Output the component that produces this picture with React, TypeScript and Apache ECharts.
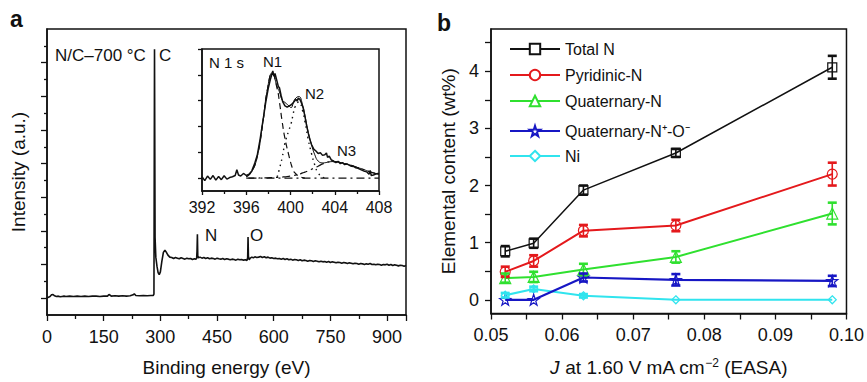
import React, { useEffect, useRef } from "react";
import * as echarts from "echarts";

const FONT = "'Liberation Sans', Arial, Helvetica, sans-serif";

// ---------- Panel a: XPS survey ----------
const surveyEnergy = [
  0, 4, 8, 12, 16, 20, 25, 30, 35, 40, 45, 50, 60, 70, 80, 90, 100, 110, 120, 130, 140, 150, 160, 164, 167, 170,
  180, 190, 200, 210, 220, 228, 231, 235, 245, 255, 265, 275, 281, 283, 284.5, 286, 288, 291, 294, 297, 300, 304,
  308, 312, 316, 320, 325, 330, 335, 340, 345, 350, 355, 360, 365, 370, 375, 380, 385, 390, 394, 396, 397, 398,
  399, 401, 405, 410, 415, 420, 425, 430, 435, 440, 445, 450, 455, 460, 465, 470, 475, 480, 485, 490, 495, 500,
  505, 510, 515, 520, 525, 529, 531, 532, 533, 535, 538, 542, 546, 550, 555, 560, 565, 570, 575, 580, 585, 590,
  595, 600, 605, 610, 615, 620, 625, 630, 635, 640, 645, 650, 655, 660, 665, 670, 675, 680, 685, 690, 695, 700,
  705, 710, 715, 720, 725, 730, 735, 740, 745, 750, 755, 760, 765, 770, 775, 780, 785, 790, 795, 800, 805, 810,
  815, 820, 825, 830, 835, 840, 845, 850, 855, 860, 865, 870, 875, 880, 885, 890, 895, 900, 905, 910, 915, 920,
  925, 930, 935, 940, 945, 950,
];
const surveyIntensity = [
  0.5, 0.53, 0.55, 0.6, 0.61, 0.57, 0.55, 0.56, 0.54, 0.55, 0.56, 0.55, 0.56, 0.55, 0.56, 0.55, 0.56, 0.55, 0.56,
  0.56, 0.55, 0.56, 0.56, 0.61, 0.59, 0.56, 0.57, 0.56, 0.57, 0.56, 0.57, 0.6, 0.63, 0.58, 0.57, 0.58, 0.57, 0.58,
  0.58, 0.62, 7.9, 2.3, 1.72, 1.45, 1.26, 1.2, 1.28, 1.6, 1.86, 1.93, 1.86, 1.78, 1.72, 1.71, 1.68, 1.71, 1.69,
  1.67, 1.7, 1.68, 1.66, 1.69, 1.67, 1.68, 1.65, 1.67, 1.66, 1.68, 1.9, 2.4, 1.75, 1.7, 1.72, 1.69, 1.71, 1.68,
  1.7, 1.67, 1.69, 1.68, 1.66, 1.69, 1.67, 1.66, 1.68, 1.65, 1.67, 1.66, 1.64, 1.66, 1.65, 1.63, 1.66, 1.64,
  1.65, 1.63, 1.64, 1.62, 1.7, 2.32, 1.75, 1.64, 1.69, 1.72, 1.7, 1.73, 1.71, 1.72, 1.74, 1.71, 1.73, 1.7, 1.72,
  1.69, 1.7, 1.68, 1.69, 1.67, 1.68, 1.66, 1.68, 1.65, 1.67, 1.64, 1.66, 1.63, 1.65, 1.64, 1.62, 1.64, 1.61,
  1.63, 1.62, 1.6, 1.62, 1.61, 1.59, 1.61, 1.6, 1.58, 1.6, 1.58, 1.59, 1.57, 1.59, 1.56, 1.58, 1.57, 1.55, 1.57,
  1.56, 1.54, 1.56, 1.55, 1.53, 1.55, 1.54, 1.52, 1.54, 1.53, 1.51, 1.53, 1.52, 1.5, 1.52, 1.51, 1.53, 1.5,
  1.51, 1.49, 1.51, 1.5, 1.48, 1.5, 1.49, 1.51, 1.48, 1.5, 1.47, 1.49, 1.48, 1.46, 1.48, 1.47, 1.45, 1.47,
];

// ---------- Inset: N 1s ----------
const n1sEnergy = [
  392.0, 392.25, 392.5, 392.75, 393.0, 393.25, 393.5, 393.75, 394.0, 394.25, 394.5, 394.75, 395.0, 395.15, 395.3,
  395.5, 395.75, 396.0, 396.25, 396.5, 396.75, 397.0, 397.25, 397.5, 397.75, 398.0, 398.2, 398.4, 398.5, 398.6,
  398.75, 398.9, 399.0, 399.15, 399.3, 399.5, 399.7, 399.9, 400.1, 400.3, 400.5, 400.6, 400.7, 400.85, 401.0,
  401.15, 401.3, 401.45, 401.6, 401.75, 401.9, 402.1, 402.3, 402.5, 402.7, 402.9, 403.1, 403.25, 403.35, 403.5,
  403.7, 403.9, 404.1, 404.3, 404.5, 404.7, 404.9, 405.1, 405.3, 405.5, 405.7, 405.9, 406.1, 406.3, 406.5, 406.7,
  406.9, 407.1, 407.2, 407.3, 407.5, 407.7, 407.9, 408.0,
];
const n1sIntensity = [
  0.05, -0.1, 0.08, -0.05, 0.1, -0.08, 0.06, -0.06, 0.09, -0.04, 0.02, 0.05, 0.1, 0.32, 0.12, 0.08, 0.18, 0.1,
  0.15, 0.28, 0.55, 0.9, 1.5, 2.2, 2.9, 3.5, 3.85, 4.15, 3.95, 4.05, 3.8, 3.55, 3.5, 3.2, 2.95, 2.8, 2.75, 2.8,
  2.85, 2.95, 3.05, 2.98, 3.1, 3.05, 2.9, 2.7, 2.4, 2.05, 1.75, 1.5, 1.3, 1.12, 1.05, 0.95, 0.98, 0.88, 0.9,
  0.97, 0.8, 0.85, 0.7, 0.66, 0.6, 0.65, 0.56, 0.6, 0.52, 0.55, 0.5, 0.46, 0.45, 0.4, 0.38, 0.34, 0.3, 0.26,
  0.24, 0.15, 0.3, 0.1, 0.12, 0.16, 0.18, 0.17,
];
const fitEnergy = [
  396, 396.5, 397, 397.5, 397.9, 398.35, 398.8, 399.0, 399.25, 399.5, 399.85, 400.05, 400.25, 400.4, 400.75,
  401.1, 401.3, 401.6, 401.9, 402.2, 402.5, 402.9, 403.2, 403.5, 404, 404.5, 405, 405.5, 406, 406.5, 407, 407.5,
  408,
];
const fitEnvelope = [
  0.05, 0.25, 0.85, 2.16, 3.41, 4.08, 3.53, 3.34, 3.02, 2.93, 2.8, 2.73, 2.9, 3.06, 3.16, 2.82, 2.43, 1.78, 1.29,
  0.9, 0.66, 0.59, 0.6, 0.63, 0.64, 0.6, 0.55, 0.49, 0.42, 0.35, 0.27, 0.2, 0.14,
];
const fitN1 = [
  0.05, 0.25, 0.85, 2.15, 3.4, 4.06, 3.45, 2.95, 2.18, 1.53, 0.88, 0.55, 0.3, 0.2, 0.07, 0.02, 0, null, null,
  null, null, null, null, null, null, null, null, null, null, null, null, null, null,
];
const fitN2 = [
  null, null, null, null, null, null, 0.05, 0.36, 0.8, 1.35, 1.85, 2.1, 2.5, 2.75, 2.95, 2.6, 2.2, 1.5, 0.95, 0.5,
  0.2, 0.04, 0, null, null, null, null, null, null, null, null, null, null,
];
const fitN3 = [
  0, 0, 0, 0.01, 0.01, 0.02, 0.03, 0.03, 0.04, 0.05, 0.07, 0.08, 0.1, 0.11, 0.14, 0.2, 0.23, 0.28, 0.34, 0.4,
  0.46, 0.55, 0.6, 0.63, 0.64, 0.6, 0.55, 0.49, 0.42, 0.35, 0.27, 0.2, 0.14,
];
const baselineEnergy = [396.2, 408];
const baselineIntensity = [0, 0];

// ---------- Panel b ----------
const currentDensity = [0.052, 0.056, 0.063, 0.076, 0.098];
const totalN = [0.85, 0.99, 1.92, 2.57, 4.07];
const totalNErr = [0.09, 0.08, 0.08, 0.07, 0.2];
const pyridinicN = [0.49, 0.68, 1.21, 1.3, 2.2];
const pyridinicNErr = [0.09, 0.1, 0.1, 0.1, 0.2];
const quaternaryN = [0.38, 0.4, 0.53, 0.75, 1.51];
const quaternaryNErr = [0.08, 0.09, 0.1, 0.1, 0.19];
const quaternaryNO = [0, 0, 0.39, 0.35, 0.33];
const quaternaryNOErr = [0, 0, 0.07, 0.1, 0.09];
const nickel = [0.08, 0.19, 0.07, 0, 0];
const nickelErr = [0.04, 0.04, 0.03, 0, 0];

const surveyXTicks = { min: 0, max: 950, interval: 150 };
const insetXTicks = { min: 392, max: 408, interval: 4 };
const panelBXTicks = { min: 0.05, max: 0.1, interval: 0.01 };
const panelBYLabels = [0, 1, 2, 3, 4];
const panelBYTicks = [0, 0.5, 1, 1.5, 2, 2.5, 3, 3.5, 4, 4.5];
const surveyYMajor = [0.5, 1.5, 2.5, 3.5, 4.5, 5.5, 6.5, 7.5];
const surveyYMinor = [1, 2, 3, 4, 5, 6, 7, 8];
const insetYTicks = [0, 1, 2, 3, 4, 5];

const STAR =
  "path://M50,0 L61.8,35.1 L98.9,35.4 L69.1,57.5 L80.2,92.7 L50,71.5 L19.8,92.7 L30.9,57.5 L1.1,35.4 L38.2,35.1 Z";

const zip = (xs: number[], ys: (number | null)[]) => {
  const out: number[][] = [];
  xs.forEach((x, i) => {
    const y = ys[i];
    if (y !== null && y !== undefined) out.push([x, y]);
  });
  return out;
};

const errData = (vals: number[], errs: number[]) =>
  currentDensity.map((x, i) => [x, vals[i] - errs[i], vals[i] + errs[i]]);

const errorRender = (color: string) => (params: any, api: any) => {
  const x = api.value(0);
  const lo = api.value(1);
  const hi = api.value(2);
  if (hi - lo < 1e-9) return null;
  const a = api.coord([x, hi]);
  const b = api.coord([x, lo]);
  const w = 4.5;
  return {
    type: "group",
    children: [
      { type: "line", shape: { x1: a[0], y1: a[1], x2: b[0], y2: b[1] }, style: { stroke: color, lineWidth: 1.6 } },
      { type: "line", shape: { x1: a[0] - w, y1: a[1], x2: a[0] + w, y2: a[1] }, style: { stroke: color, lineWidth: 2.6 } },
      { type: "line", shape: { x1: b[0] - w, y1: b[1], x2: b[0] + w, y2: b[1] }, style: { stroke: color, lineWidth: 2.6 } },
    ],
  };
};

const BLACK = "#111111";
const RED = "#e4191c";
const GREEN = "#2fe02f";
const BLUE = "#1717c4";
const CYAN = "#30e4ee";

const axisLine = { show: true, onZero: false, lineStyle: { color: BLACK, width: 1.5 } };
const tickStyle = { color: BLACK, width: 1.3 };

export default function App() {
  const ref = useRef<HTMLDivElement>(null);

  useEffect(() => {
    document.body.style.margin = "0";
    if (!ref.current) return;
    const chart = echarts.init(ref.current, undefined, { renderer: "svg" });

    const bSeries = [
      { name: "Total N", vals: totalN, errs: totalNErr, color: BLACK, symbol: "rect", size: 9, lw: 1.5 },
      { name: "Pyridinic-N", vals: pyridinicN, errs: pyridinicNErr, color: RED, symbol: "circle", size: 10, lw: 2 },
      { name: "Quaternary-N", vals: quaternaryN, errs: quaternaryNErr, color: GREEN, symbol: "triangle", size: 11, lw: 2 },
      { name: "Quaternary-N\u207A-O\u207B", vals: quaternaryNO, errs: quaternaryNOErr, color: BLUE, symbol: STAR, size: 11, lw: 2.2 },
      { name: "Ni", vals: nickel, errs: nickelErr, color: CYAN, symbol: "diamond", size: 8, lw: 2 },
    ];

    const lineSeries: any[] = bSeries.map((s, i) => ({
      type: "line",
      name: s.name,
      xAxisIndex: 2,
      yAxisIndex: 3,
      data: zip(currentDensity, s.vals),
      symbol: s.symbol,
      symbolSize: s.size,
      showAllSymbol: true,
      lineStyle: { color: s.color, width: s.lw },
      itemStyle: { color: "transparent", borderColor: s.color, borderWidth: 1.2 },
      z: 3 + (5 - i) * 0.1,
    }));
    const errSeries: any[] = bSeries.map((s) => ({
      type: "custom",
      xAxisIndex: 2,
      yAxisIndex: 3,
      data: errData(s.vals, s.errs),
      encode: { x: 0, y: [1, 2] },
      renderItem: errorRender(s.color),
      z: 5,
      silent: true,
    }));

    const legendItem = (name: string) => ({ name, itemStyle: { color: "#ffffff" } });

    const option: any = {
      animation: false,
      backgroundColor: "#ffffff",
      textStyle: { fontFamily: FONT },
      grid: [
        { left: 47, top: 29, width: 359, height: 290, show: true, borderColor: BLACK, borderWidth: 1.5, backgroundColor: "transparent" },
        { left: 202, top: 49, width: 177, height: 142, show: true, borderColor: BLACK, borderWidth: 1.5, backgroundColor: "#ffffff" },
        { left: 491, top: 29, width: 358, height: 290, show: true, borderColor: BLACK, borderWidth: 1.5, backgroundColor: "transparent" },
      ],
      legend: [
        {
          data: [legendItem("Total N"), legendItem("Pyridinic-N"), legendItem("Quaternary-N")],
          orient: "vertical",
          left: 504,
          top: 36,
          itemWidth: 50,
          itemHeight: 13,
          itemGap: 10,
          selectedMode: false,
          textStyle: { fontSize: 16, color: BLACK, fontFamily: FONT, lineHeight: 16 },
        },
        {
          data: [legendItem("Quaternary-N\u207A-O\u207B"), legendItem("Ni")],
          orient: "vertical",
          left: 504,
          top: 118,
          itemWidth: 50,
          itemHeight: 13,
          itemGap: 9,
          selectedMode: false,
          textStyle: { fontSize: 16, color: BLACK, fontFamily: FONT, lineHeight: 16 },
        },
      ],
      xAxis: [
        {
          gridIndex: 0,
          type: "value",
          ...surveyXTicks,
          axisLine,
          axisTick: { show: true, length: 6, lineStyle: tickStyle },
          minorTick: { show: true, splitNumber: 2, length: 4, lineStyle: tickStyle },
          axisLabel: { fontSize: 18, color: BLACK, margin: 13, fontFamily: FONT },
          splitLine: { show: false },
          name: "Binding energy (eV)",
          nameLocation: "middle",
          nameGap: 43,
          nameTextStyle: { fontSize: 19, color: BLACK, fontFamily: FONT },
        },
        {
          gridIndex: 1,
          type: "value",
          ...insetXTicks,
          axisLine,
          axisTick: { show: true, length: 4, lineStyle: tickStyle },
          minorTick: { show: true, splitNumber: 2, length: 3, lineStyle: tickStyle },
          axisLabel: { fontSize: 16, color: BLACK, margin: 8, fontFamily: FONT },
          splitLine: { show: false },
        },
        {
          gridIndex: 2,
          type: "value",
          ...panelBXTicks,
          axisLine,
          axisTick: { show: true, length: 6, lineStyle: tickStyle },
          minorTick: { show: true, splitNumber: 2, length: 6, lineStyle: tickStyle },
          axisLabel: {
            fontSize: 18,
            color: BLACK,
            margin: 12,
            fontFamily: FONT,
            formatter: (v: number) => v.toFixed(2),
          },
          splitLine: { show: false },
          name: "{i|J} at 1.60 V mA cm{sup|\u22122} (EASA)",
          nameLocation: "middle",
          nameGap: 43,
          nameTextStyle: {
            fontSize: 19,
            color: BLACK,
            fontFamily: FONT,
            rich: {
              i: { fontSize: 19, fontStyle: "italic", color: BLACK, fontFamily: FONT },
              sup: { fontSize: 12, color: BLACK, fontFamily: FONT, verticalAlign: "top", lineHeight: 22 },
            },
          },
        },
      ],
      yAxis: [
        {
          gridIndex: 0,
          type: "value",
          position: "left",
          min: 0,
          max: 8.5,
          axisLine,
          axisTick: { show: true, length: 6, lineStyle: tickStyle, customValues: surveyYMajor },
          axisLabel: { show: false, customValues: surveyYMajor },
          splitLine: { show: false },
          name: "Intensity (a.u.)",
          nameLocation: "middle",
          nameGap: 19,
          nameTextStyle: { fontSize: 19, color: BLACK, fontFamily: FONT },
        },
        {
          gridIndex: 0,
          type: "value",
          position: "left",
          min: 0,
          max: 8.5,
          axisLine: { show: false },
          axisTick: { show: true, length: 3, lineStyle: tickStyle, customValues: surveyYMinor },
          axisLabel: { show: false, customValues: surveyYMinor },
          splitLine: { show: false },
        },
        {
          gridIndex: 1,
          type: "value",
          position: "left",
          min: -0.5,
          max: 5,
          axisLine,
          axisTick: { show: true, length: 4, lineStyle: tickStyle, customValues: insetYTicks },
          axisLabel: { show: false, customValues: insetYTicks },
          splitLine: { show: false },
        },
        {
          gridIndex: 2,
          type: "value",
          position: "left",
          min: -0.24,
          max: 4.74,
          axisLine,
          axisTick: { show: true, length: 6, lineStyle: tickStyle, customValues: panelBYTicks },
          axisLabel: { fontSize: 18, color: BLACK, margin: 12, fontFamily: FONT, customValues: panelBYLabels },
          splitLine: { show: false },
          name: "Elemental content (wt%)",
          nameLocation: "middle",
          nameGap: 33,
          nameTextStyle: { fontSize: 19, color: BLACK, fontFamily: FONT },
        },
      ],
      series: [
        {
          type: "line",
          xAxisIndex: 0,
          yAxisIndex: 0,
          data: zip(surveyEnergy, surveyIntensity),
          showSymbol: false,
          symbol: "none",
          lineStyle: { color: BLACK, width: 1.6 },
          z: 2,
        },
        {
          type: "line",
          xAxisIndex: 1,
          yAxisIndex: 2,
          data: zip(n1sEnergy, n1sIntensity),
          symbol: "none",
          lineStyle: { color: BLACK, width: 1.5 },
          z: 4,
        },
        {
          type: "line",
          xAxisIndex: 1,
          yAxisIndex: 2,
          data: zip(fitEnergy, fitEnvelope),
          symbol: "none",
          smooth: true,
          lineStyle: { color: BLACK, width: 1 },
          z: 4,
        },
        {
          type: "line",
          xAxisIndex: 1,
          yAxisIndex: 2,
          data: zip(fitEnergy, fitN1),
          symbol: "none",
          smooth: true,
          lineStyle: { color: BLACK, width: 1.2, type: [6, 4] },
          z: 4,
        },
        {
          type: "line",
          xAxisIndex: 1,
          yAxisIndex: 2,
          data: zip(fitEnergy, fitN2),
          symbol: "none",
          smooth: true,
          lineStyle: { color: BLACK, width: 1.4, type: [1.5, 4] },
          z: 4,
        },
        {
          type: "line",
          xAxisIndex: 1,
          yAxisIndex: 2,
          data: zip(fitEnergy, fitN3),
          symbol: "none",
          smooth: true,
          lineStyle: { color: BLACK, width: 1.2, type: [8, 4, 2, 4] },
          z: 4,
        },
        {
          type: "line",
          xAxisIndex: 1,
          yAxisIndex: 2,
          data: zip(baselineEnergy, baselineIntensity),
          symbol: "none",
          lineStyle: { color: BLACK, width: 1.2, type: [8, 4, 2, 4] },
          z: 4,
        },
        ...lineSeries,
        ...errSeries,
      ],
      graphic: [
        { type: "text", left: 10, top: 7, style: { text: "a", font: `bold 23px ${FONT}`, fill: BLACK } },
        { type: "text", left: 437, top: 11, style: { text: "b", font: `bold 23px ${FONT}`, fill: BLACK } },
        { type: "text", left: 55, top: 47, style: { text: "N/C\u2013700 \u00B0C", font: `17px ${FONT}`, fill: BLACK } },
        { type: "text", left: 159, top: 47, style: { text: "C", font: `17px ${FONT}`, fill: BLACK } },
        { type: "text", left: 205, top: 227, style: { text: "N", font: `17px ${FONT}`, fill: BLACK } },
        { type: "text", left: 250, top: 227, style: { text: "O", font: `17px ${FONT}`, fill: BLACK } },
        { type: "text", left: 209, top: 55, style: { text: "N 1 s", font: `15px ${FONT}`, fill: BLACK } },
        { type: "text", left: 263, top: 54, style: { text: "N1", font: `15px ${FONT}`, fill: BLACK } },
        { type: "text", left: 305, top: 86, style: { text: "N2", font: `15px ${FONT}`, fill: BLACK } },
        { type: "text", left: 337, top: 143, style: { text: "N3", font: `15px ${FONT}`, fill: BLACK } },
      ],
    };

    chart.setOption(option);
    return () => chart.dispose();
  }, []);

  return <div ref={ref} style={{ width: 867, height: 382 }} />;
}
